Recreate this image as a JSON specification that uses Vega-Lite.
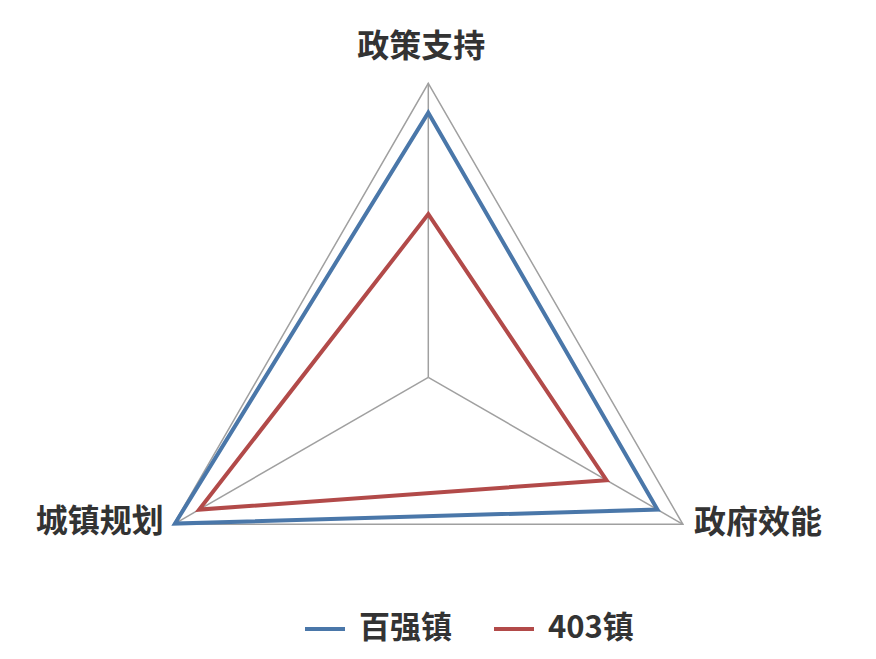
{
  "$schema": "https://vega.github.io/schema/vega-lite/v6.json",
  "width": 876,
  "height": 659,
  "autosize": "none",
  "padding": 0,
  "background": "white",
  "config": {"view": {"stroke": null}},
  "datasets": {
    "scores": [
      {"group": "百强镇", "axis": "政策支持", "value": 90},
      {"group": "百强镇", "axis": "政府效能", "value": 90},
      {"group": "百强镇", "axis": "城镇规划", "value": 99.5},
      {"group": "403镇", "axis": "政策支持", "value": 55.5},
      {"group": "403镇", "axis": "政府效能", "value": 70},
      {"group": "403镇", "axis": "城镇规划", "value": 90}
    ],
    "axes": [
      {"axis": "政策支持", "max": 100},
      {"axis": "政府效能", "max": 100},
      {"axis": "城镇规划", "max": 100}
    ]
  },
  "resolve": {"scale": {"x": "shared", "y": "shared"}},
  "layer": [
    {
      "data": {"name": "axes"},
      "transform": [
        {"calculate": "indexof(['政策支持','政府效能','城镇规划'], datum.axis)", "as": "idx"},
        {"calculate": "datum.max * sin(datum.idx * 2 * PI / 3)", "as": "px"},
        {"calculate": "datum.max * cos(datum.idx * 2 * PI / 3)", "as": "py"}
      ],
      "layer": [
        {
          "mark": {"type": "line", "interpolate": "linear-closed", "stroke": "#a0a0a0", "strokeWidth": 1.5},
          "encoding": {
            "x": {"field": "px", "type": "quantitative", "scale": {"domain": [-145.68, 152.28], "nice": false, "zero": false}, "axis": null},
            "y": {"field": "py", "type": "quantitative", "scale": {"domain": [-95.82, 128.33], "nice": false, "zero": false}, "axis": null},
            "order": {"field": "idx"}
          }
        },
        {
          "mark": {"type": "rule", "stroke": "#a0a0a0", "strokeWidth": 1.5},
          "encoding": {
            "x": {"field": "px", "type": "quantitative"},
            "y": {"field": "py", "type": "quantitative"},
            "x2": {"datum": 0},
            "y2": {"datum": 0}
          }
        },
        {
          "transform": [{"filter": "datum.axis == '政策支持'"}],
          "mark": {"type": "text", "font": "Noto Sans CJK SC", "fontWeight": "bold", "fontSize": 32, "fill": "#333333", "align": "center", "baseline": "middle", "dx": -7, "dy": -36},
          "encoding": {
            "x": {"field": "px", "type": "quantitative"},
            "y": {"field": "py", "type": "quantitative"},
            "text": {"field": "axis"}
          }
        },
        {
          "transform": [{"filter": "datum.axis == '政府效能'"}],
          "mark": {"type": "text", "font": "Noto Sans CJK SC", "fontWeight": "bold", "fontSize": 32, "fill": "#333333", "align": "left", "baseline": "middle", "dx": 11, "dy": -1},
          "encoding": {
            "x": {"field": "px", "type": "quantitative"},
            "y": {"field": "py", "type": "quantitative"},
            "text": {"field": "axis"}
          }
        },
        {
          "transform": [{"filter": "datum.axis == '城镇规划'"}],
          "mark": {"type": "text", "font": "Noto Sans CJK SC", "fontWeight": "bold", "fontSize": 32, "fill": "#333333", "align": "right", "baseline": "middle", "dx": -10, "dy": -2},
          "encoding": {
            "x": {"field": "px", "type": "quantitative"},
            "y": {"field": "py", "type": "quantitative"},
            "text": {"field": "axis"}
          }
        }
      ]
    },
    {
      "data": {"name": "scores"},
      "transform": [
        {"calculate": "indexof(['政策支持','政府效能','城镇规划'], datum.axis)", "as": "idx"},
        {"calculate": "datum.value * sin(datum.idx * 2 * PI / 3)", "as": "px"},
        {"calculate": "datum.value * cos(datum.idx * 2 * PI / 3)", "as": "py"}
      ],
      "mark": {"type": "line", "interpolate": "linear-closed", "strokeWidth": 4, "strokeJoin": "miter"},
      "encoding": {
        "x": {"field": "px", "type": "quantitative"},
        "y": {"field": "py", "type": "quantitative"},
        "order": {"field": "idx"},
        "color": {
          "field": "group",
          "type": "nominal",
          "scale": {"domain": ["百强镇", "403镇"], "range": ["#4a77a9", "#b24a49"]},
          "legend": {
            "title": null,
            "orient": "none",
            "legendX": 303,
            "legendY": 607,
            "direction": "horizontal",
            "symbolType": "stroke",
            "symbolSize": 1600,
            "symbolStrokeWidth": 4,
            "labelFont": "Noto Sans CJK SC",
            "labelFontWeight": "bold",
            "labelFontSize": 31,
            "labelColor": "#333333",
            "labelOffset": 12,
            "columnPadding": 34,
            "labelLimit": 300
          }
        }
      }
    }
  ]
}
